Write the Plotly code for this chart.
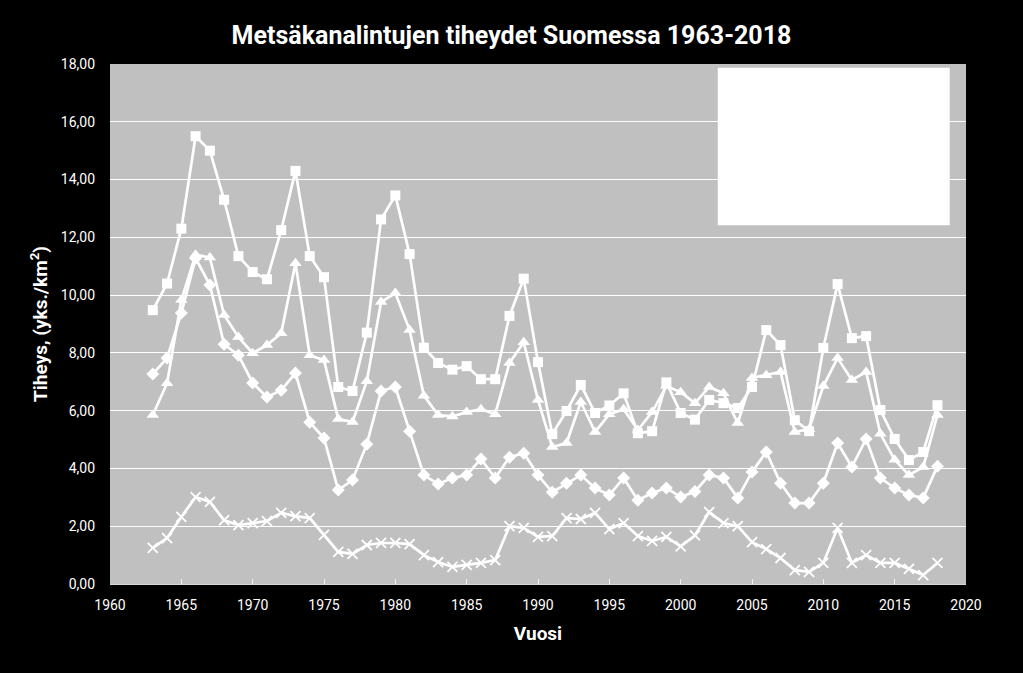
import plotly.graph_objects as go

years = list(range(1963, 2019))

# square series (top)
sq = [9.48, 10.4, 12.3, 15.5, 15.0, 13.3, 11.35, 10.8, 10.55, 12.25,
      14.3, 11.35, 10.62, 6.82, 6.68, 8.7, 12.62, 13.45, 11.42, 8.18,
      7.65, 7.42, 7.54, 7.09, 7.09, 9.28, 10.57, 7.68, 5.19, 5.99,
      6.89, 5.92, 6.18, 6.6, 5.22, 5.29, 6.98, 5.92, 5.69, 6.37,
      6.26, 6.09, 6.82, 8.79, 8.27, 5.67, 5.29, 8.17, 10.38, 8.51,
      8.58, 6.02, 5.02, 4.29, 4.57, 6.19]

# triangle series
tri = [5.85, 6.95, 9.83, 11.4, 11.3, 9.31, 8.55, 7.99, 8.27, 8.68,
       11.1, 7.92, 7.75, 5.71, 5.61, 7.02, 9.76, 10.07, 8.79, 6.52,
       5.85, 5.8, 5.95, 6.05, 5.88, 7.65, 8.37, 6.37, 4.74, 4.88,
       6.3, 5.26, 5.88, 6.05, 5.33, 5.95, 6.85, 6.64, 6.26, 6.82,
       6.6, 5.57, 7.13, 7.23, 7.34, 5.26, 5.36, 6.85, 7.82, 7.06,
       7.34, 5.2, 4.3, 3.77, 4.05, 5.85]

# diamond series
dia = [7.27, 7.82, 9.38, 11.28, 10.35, 8.3, 7.92, 6.96, 6.47, 6.71,
       7.3, 5.6, 5.05, 3.25, 3.6, 4.84, 6.68, 6.82, 5.29, 3.77,
       3.46, 3.67, 3.77, 4.33, 3.67, 4.39, 4.53, 3.77, 3.18, 3.49,
       3.77, 3.32, 3.08, 3.67, 2.9, 3.15, 3.32, 3.01, 3.2, 3.77,
       3.67, 2.98, 3.88, 4.57, 3.49, 2.8, 2.8, 3.49, 4.88, 4.05,
       5.02, 3.67, 3.32, 3.08, 2.98, 4.08]

# x series (bottom)
xs = [1.25, 1.59, 2.32, 3.01, 2.84, 2.21, 2.04, 2.11, 2.18, 2.46,
      2.35, 2.28, 1.7, 1.11, 1.04, 1.35, 1.42, 1.42, 1.38, 1.0,
      0.76, 0.59, 0.66, 0.73, 0.83, 2.0, 1.94, 1.63, 1.66, 2.28,
      2.25, 2.46, 1.9, 2.11, 1.66, 1.49, 1.63, 1.3, 1.68, 2.49,
      2.11, 2.0, 1.45, 1.21, 0.9, 0.48, 0.42, 0.73, 1.94, 0.73,
      1.0, 0.73, 0.73, 0.52, 0.31, 0.73]

font_fam = "Roboto, Arial"

fig = go.Figure()
series = [(sq, "square", 10), (tri, "triangle-up", 11), (dia, "diamond", 10)]
for vals, sym, size in series:
    fig.add_trace(go.Scatter(x=years, y=vals, mode='lines+markers',
                             line=dict(color='white', width=2.7),
                             marker=dict(symbol=sym, size=size, color='white'),
                             showlegend=False))
fig.add_trace(go.Scatter(x=years, y=xs, mode='lines+markers',
                         line=dict(color='white', width=2.7),
                         marker=dict(symbol='x-thin', size=10,
                                     line=dict(color='white', width=1.8)),
                         showlegend=False))

# empty white legend box
fig.add_shape(type='rect', xref='paper', yref='paper',
              x0=0.71, x1=0.981, y0=0.69, y1=0.993,
              fillcolor='white', line=dict(width=0))

fig.update_layout(
    width=1023, height=673,
    paper_bgcolor='black', plot_bgcolor='#c0c0c0',
    margin=dict(l=110, r=57, t=64, b=89),
    separators=', ',
    font=dict(family=font_fam, color='white', size=14),
    title=dict(text='<b>Metsäkanalintujen tiheydet Suomessa 1963-2018</b>',
               x=0.5, xanchor='center', y=0.948, yanchor='middle',
               font=dict(size=25, color='white', family=font_fam)),
)
fig.update_xaxes(range=[1960, 2020], dtick=5, tick0=1960,
                 showgrid=False, zeroline=False,
                 ticks='inside', ticklen=5, tickcolor='#f0f0f0',
                 showline=True, linecolor='#d8d8d8', linewidth=1,
                 ticklabelstandoff=8,
                 tickfont=dict(size=14, color='white'),
                 title=dict(text='<b>Vuosi</b>', font=dict(size=19, color='white'),
                            standoff=14))
fig.update_yaxes(range=[0, 18], dtick=2, tickformat='.2f',
                 showgrid=True, gridcolor='white', gridwidth=1,
                 zeroline=False, ticks='', ticklabelstandoff=14,
                 tickfont=dict(size=14, color='white'),
                 title=dict(text='<b>Tiheys, (yks./km<sup>2</sup>)</b>',
                            font=dict(size=19, color='white'), standoff=8))

fig.write_html("out.html", config={'displayModeBar': False},
               post_script="document.body.style.margin='0';"
                           "document.body.style.background='black';")
